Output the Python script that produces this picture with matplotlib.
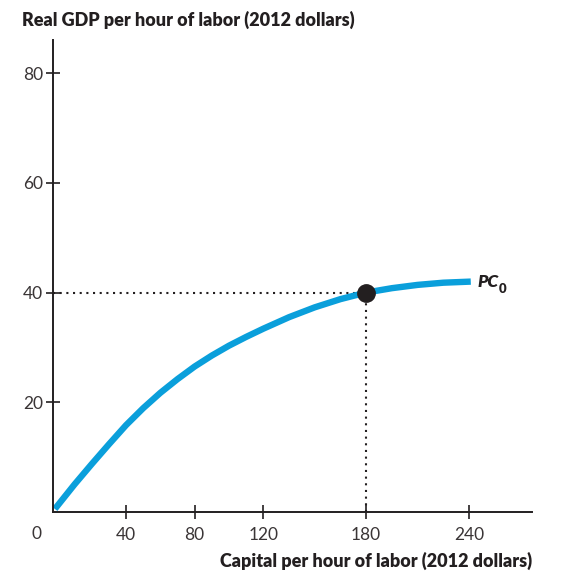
import matplotlib.pyplot as plt

# -------------------------------
# Data
# -------------------------------
capital = [-1.5, 10, 20, 30, 40, 50, 60, 70, 80, 90, 100, 110, 120, 135, 150, 165, 180, 195, 210, 225, 241]
gdp = [0.5, 5.0, 8.7, 12.3, 15.8, 18.9, 21.7, 24.2, 26.5, 28.5, 30.3, 31.9, 33.4, 35.5, 37.3, 38.8, 40.0, 40.8, 41.4, 41.8, 42.0]

point_x, point_y = 180, 40
x_ticks = [40, 80, 120, 180, 240]
y_ticks = [20, 40, 60, 80]

dark = "#231f20"
blue = "#0a9fdb"

plt.rcParams["font.family"] = ["Lato", "DejaVu Sans"]

W, H = 561, 587
fig = plt.figure(figsize=(W / 100, H / 100), dpi=100)
left, right, bottom, top = 53, 532, 511.7, 40
ax = fig.add_axes([left / W, 1 - bottom / H, (right - left) / W, (bottom - top) / H])

# dotted guides to the highlighted point
ax.plot([-2.6, point_x], [point_y, point_y], color=dark, lw=1.5, ls=(0, (1, 2.2)), zorder=1)
ax.plot([point_x, point_x], [0, point_y], color=dark, lw=1.5, ls=(0, (1, 2.2)), zorder=1)

# production curve
ax.plot(capital, gdp, color=blue, lw=4.6, solid_capstyle="butt", solid_joinstyle="round", zorder=2)
ax.plot([point_x], [point_y], "o", color=dark, markersize=12.5, zorder=3)

ax.text(245, 41.9, "PC", fontsize=12.5, fontweight="heavy", fontstyle="italic", color=dark,
        va="center", ha="left")
ax.text(257.5, 40.7, "0", fontsize=9.5, fontweight="heavy", color=dark, va="center", ha="left")

ax.set_xlim(-2.6, 276.7)
ax.set_ylim(0, 86.1)

for side in ["top", "right"]:
    ax.spines[side].set_visible(False)
for side in ["left", "bottom"]:
    ax.spines[side].set_color(dark)
    ax.spines[side].set_linewidth(1.4)

ax.set_xticks(x_ticks)
ax.set_yticks(y_ticks)
ax.tick_params(direction="inout", length=10, width=1.2, color=dark, labelcolor="#3a3536",
               labelsize=12.5)
ax.tick_params(axis="x", pad=6)
ax.tick_params(axis="y", pad=2)

# corner zero label
fig.text(36 / W, 1 - 534 / H, "0", fontsize=12.5, color="#3a3536", ha="center", va="center")

fig.text(22 / W, 1 - 20 / H, "Real GDP per hour of labor (2012 dollars)", fontsize=13,
         fontweight="heavy", color=dark, ha="left", va="center")
fig.text(532 / W, 1 - 561 / H, "Capital per hour of labor (2012 dollars)", fontsize=13,
         fontweight="heavy", color=dark, ha="right", va="center")

fig.savefig("out.png", dpi=100)
